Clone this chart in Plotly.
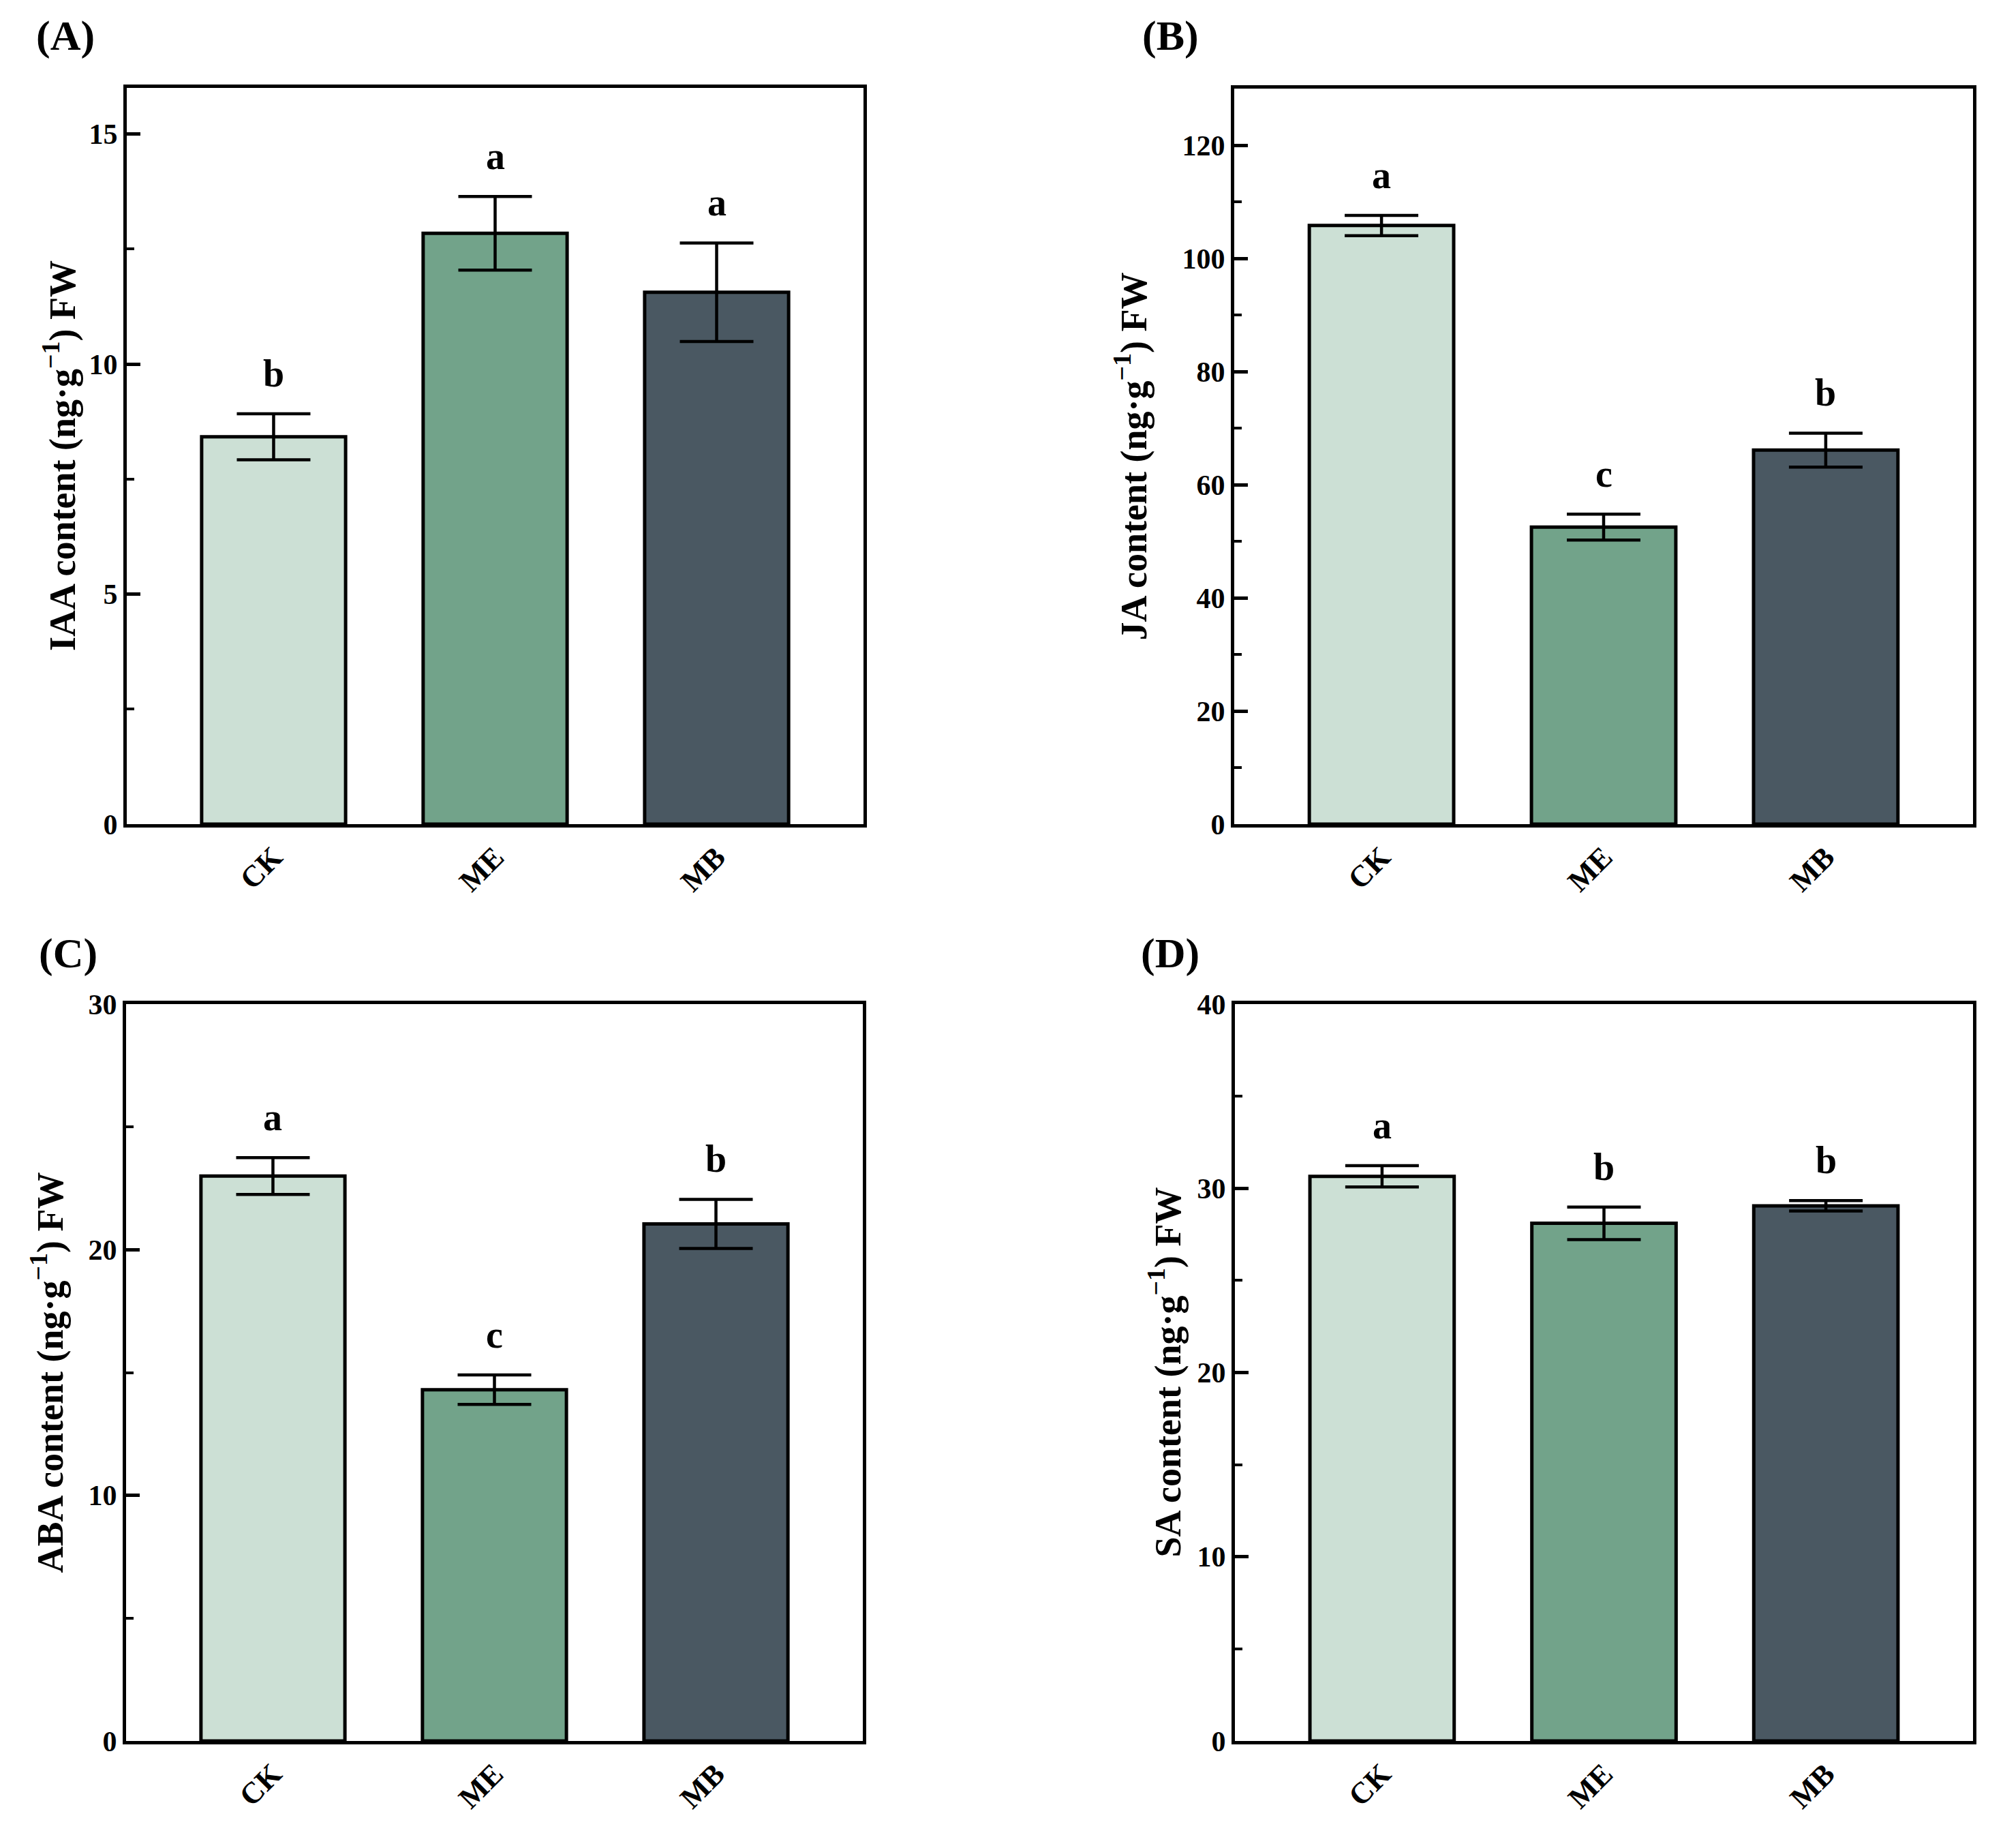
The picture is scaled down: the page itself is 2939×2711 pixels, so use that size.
import plotly.graph_objects as go
from plotly.subplots import make_subplots

# treatments and bar colours
groups = ["CK", "ME", "MB"]
bar_colors = ["#CCE0D5", "#72A38A", "#4A5862"]

# (A) IAA
iaa_mean = [8.42, 12.84, 11.56]
iaa_err = [0.50, 0.80, 1.07]
iaa_sig = ["b", "a", "a"]

# (B) JA
ja_mean = [105.8, 52.5, 66.1]
ja_err = [1.8, 2.3, 3.0]
ja_sig = ["a", "c", "b"]

# (C) ABA
aba_mean = [23.0, 14.3, 21.05]
aba_err = [0.75, 0.60, 1.00]
aba_sig = ["a", "c", "b"]

# (D) SA
sa_mean = [30.65, 28.1, 29.05]
sa_err = [0.58, 0.88, 0.28]
sa_sig = ["a", "b", "b"]

FONT = "Liberation Serif, Times New Roman, serif"
W, H, OFF = 2923, 2695, 8


def fx(p):
    return (p - OFF) / W


def fy(p):
    return 1 - (p - OFF) / H


panels = [
    dict(tag="(A)", name="IAA", mean=iaa_mean, err=iaa_err, sig=iaa_sig, yr=[0, 16], dt=5,
         box=(186, 1267, 129, 1209), title_x=87, tag_xy=(96, 53)),
    dict(tag="(B)", name="JA", mean=ja_mean, err=ja_err, sig=ja_sig, yr=[0, 130], dt=20,
         box=(1811, 2895, 130, 1209), title_x=1660, tag_xy=(1717, 53)),
    dict(tag="(C)", name="ABA", mean=aba_mean, err=aba_err, sig=aba_sig, yr=[0, 30], dt=10,
         box=(185, 1266, 1473, 2554), title_x=70, tag_xy=(100, 1398)),
    dict(tag="(D)", name="SA", mean=sa_mean, err=sa_err, sig=sa_sig, yr=[0, 40], dt=10,
         box=(1812, 2895, 1473, 2554), title_x=1710, tag_xy=(1717, 1398)),
]

fig = make_subplots(rows=2, cols=2)
annotations = []

for i, p in enumerate(panels):
    row, col = i // 2 + 1, i % 2 + 1
    fig.add_trace(go.Bar(
        x=groups, y=p["mean"], width=0.65,
        marker=dict(color=bar_colors, line=dict(color="black", width=5)),
        error_y=dict(type="data", array=p["err"], color="black", thickness=4.5, width=54),
        showlegend=False,
    ), row=row, col=col)

    sfx = "" if i == 0 else str(i + 1)
    x0, x1, y0, y1 = p["box"]
    fig.update_layout({
        "xaxis" + sfx: dict(
            domain=[fx(x0), fx(x1)], type="category", range=[-0.663, 2.663],
            automargin=False,
            showline=True, mirror=True, linewidth=5, linecolor="black",
            ticks="", tickangle=-45, showgrid=False, zeroline=False,
            tickfont=dict(family=FONT, size=44, color="black", weight="bold"),
        ),
        "yaxis" + sfx: dict(
            domain=[fy(y1), fy(y0)], range=p["yr"], tick0=0, dtick=p["dt"],
            automargin=False,
            ticks="inside", ticklen=20, tickwidth=5, tickcolor="black",
            minor=dict(ticks="inside", ticklen=11, tickwidth=4, tickcolor="black", dtick=p["dt"] / 2),
            showline=True, mirror=True, linewidth=5, linecolor="black",
            showgrid=False, zeroline=False,
            tickfont=dict(family=FONT, size=42, color="black", weight="bold"),
        ),
    })

    # significance letters above the error bars
    for g, m, e, s in zip(groups, p["mean"], p["err"], p["sig"]):
        annotations.append(dict(
            x=g, y=m + e, xref="x" + sfx, yref="y" + sfx, text="<b>%s</b>" % s,
            showarrow=False, yanchor="bottom", yshift=26,
            font=dict(family=FONT, size=56, color="black"),
        ))

    # y-axis title
    annotations.append(dict(
        x=fx(p["title_x"]), y=fy((y0 + y1) / 2), xref="paper", yref="paper",
        text="<b>%s content (ng·g<sup>−1</sup>) FW</b>" % p["name"],
        textangle=-90, showarrow=False, xanchor="center", yanchor="middle",
        font=dict(family=FONT, size=54, color="black"),
    ))

    # panel tag
    annotations.append(dict(
        x=fx(p["tag_xy"][0]), y=fy(p["tag_xy"][1]), xref="paper", yref="paper",
        text="<b>%s</b>" % p["tag"], showarrow=False, xanchor="center", yanchor="middle",
        font=dict(family=FONT, size=62, color="black"),
    ))

fig.update_layout(
    template="none",
    width=W, height=H,
    margin=dict(l=0, r=0, t=0, b=0, autoexpand=False),
    paper_bgcolor="white", plot_bgcolor="white",
    font=dict(family=FONT, color="black"),
    annotations=annotations,
)

fig.write_html("out.html")
